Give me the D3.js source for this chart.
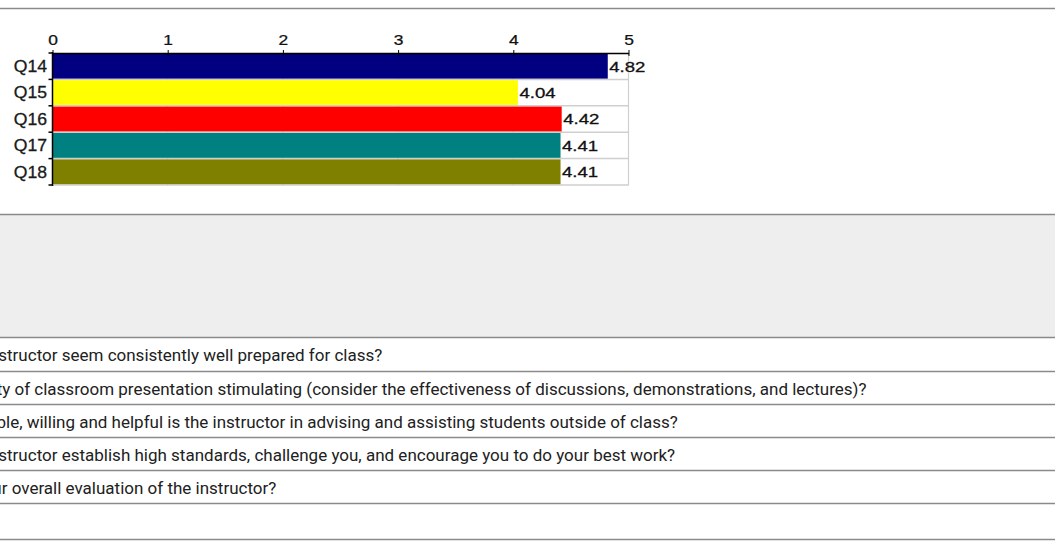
<!DOCTYPE html>
<html><head><meta charset="utf-8">
<script src="https://cdn.jsdelivr.net/npm/d3@7"></script>
<style>
html,body{margin:0;padding:0;background:#fff;overflow:hidden;}
svg{display:block;}
</style></head>
<body>
<svg id="c" width="1055" height="554"></svg>
<script>
const categories = ["Q14","Q15","Q16","Q17","Q18"];
const values = [4.82, 4.04, 4.42, 4.41, 4.41];
const colors = ["#000080","#ffff00","#ff0000","#008080","#808000"];
const xTicks = [0,1,2,3,4,5];
const questions = [
  {text:"structor seem consistently well prepared for class?", anchor:"structor ", at:61.7},
  {text:"ty of classroom presentation stimulating (consider the effectiveness of discussions, demonstrations, and lectures)?", anchor:"ty of ", at:34.3},
  {text:"able, willing and helpful is the instructor in advising and assisting students outside of class?", anchor:"able, ", at:26.7},
  {text:"structor establish high standards, challenge you, and encourage you to do your best work?", anchor:"structor ", at:61.7},
  {text:"your overall evaluation of the instructor?", anchor:"your ", at:11.7}
];

const svg = d3.select("#c");
const W = 1055;
const CF = "Liberation Sans, Arial, sans-serif";
const QF = "Roboto, sans-serif";
const QS = 17;

// page lines
const hr = [8, 214, 337, 370.5, 403.5, 436.5, 469.5, 502.5, 539];
svg.append("rect").attr("x",0).attr("y",214).attr("width",W).attr("height",123).attr("fill","#eeeeee");
svg.selectAll("line.hr").data(hr).join("line").attr("class","hr")
  .attr("x1",0).attr("x2",W).attr("y1",d=>Math.round(d)+0.5).attr("y2",d=>Math.round(d)+0.5)
  .attr("stroke","#8a8a8a").attr("stroke-width",1.3);

// chart
const x = d3.scaleLinear().domain([0,5]).range([52.5,628.5]);
const y = d3.scaleBand().domain(categories).range([53,185]).paddingInner(0.06).paddingOuter(0.03);
const yb = d3.scaleBand().domain(categories).range([53,185]);
const g = svg.append("g");

// grid
g.selectAll("line.vg").data(xTicks.slice(1)).join("line").attr("class","vg")
  .attr("x1",d=>x(d)).attr("x2",d=>x(d)).attr("y1",53).attr("y2",185.5)
  .attr("stroke","#cfcfcf").attr("stroke-width",1.2);
g.selectAll("line.hg").data(categories).join("line").attr("class","hg")
  .attr("x1",x(0)).attr("x2",x(5)).attr("y1",d=>yb(d)+yb.bandwidth()).attr("y2",d=>yb(d)+yb.bandwidth())
  .attr("stroke","#cfcfcf").attr("stroke-width",1.5);

// bars
g.selectAll("rect.bar").data(values).join("rect").attr("class","bar")
  .attr("x",x(0)).attr("y",(d,i)=>y(categories[i]))
  .attr("width",d=>x(d)-x(0)).attr("height",y.bandwidth())
  .attr("fill",(d,i)=>colors[i]);

// axes
const xAxis = d3.axisTop(x).tickValues(xTicks).tickSize(3).tickSizeOuter(0).tickFormat(d3.format("d"));
const xa = g.append("g").attr("transform","translate(0,53)").call(xAxis);
xa.select(".domain").attr("stroke","#000").attr("stroke-width",1.5);
xa.selectAll(".tick line").attr("stroke","#000").attr("y1",3).attr("y2",-3);
xa.selectAll(".tick text").attr("font-family",CF).attr("font-size",14.5).attr("fill","#111")
  .attr("stroke","#111").attr("stroke-width",0.25)
  .attr("y",null).attr("dy",null).attr("text-anchor","middle")
  .attr("transform","translate(0,-8.5) scale(1.2,1)");

const ya = g.append("g").attr("transform","translate(52.5,0)");
ya.append("line").attr("x1",0).attr("x2",0).attr("y1",52).attr("y2",186).attr("stroke","#000").attr("stroke-width",1.5);
ya.selectAll("line.yt").data(categories.concat(["end"])).join("line").attr("class","yt")
  .attr("x1",-4).attr("x2",0)
  .attr("y1",(d,i)=> i<categories.length ? yb(d) : 185).attr("y2",(d,i)=> i<categories.length ? yb(d) : 185)
  .attr("stroke","#000").attr("stroke-width",1.5);
ya.selectAll("text").data(categories).join("text")
  .attr("transform",d=>`translate(-5.5,${yb(d)+yb.bandwidth()/2}) scale(1.1,1)`).attr("dy","0.36em")
  .attr("text-anchor","end").attr("font-family",CF).attr("font-size",16).attr("fill","#1a1a1a")
  .attr("stroke","#1a1a1a").attr("stroke-width",0.3)
  .text(d=>d);

// value labels
g.selectAll("text.val").data(values).join("text").attr("class","val")
  .attr("transform",(d,i)=>`translate(${x(d)+1.5},${yb(categories[i])+yb.bandwidth()/2}) scale(1.24,1)`)
  .attr("dy","0.36em")
  .attr("font-family",CF).attr("font-size",15).attr("fill","#111")
  .attr("stroke","#111").attr("stroke-width",0.3)
  .text(d=>d.toFixed(2));

// question rows
const rowTops = hr.slice(2,7);
const qt = svg.selectAll("text.q").data(questions).join("text").attr("class","q")
  .attr("font-family",QF).attr("font-size",QS).attr("fill","#212121")
  .attr("y",(d,i)=>rowTops[i]+24)
  .text(d=>d.text);
qt.each(function(d){
  const t = d3.select(this);
  const probe = svg.append("text").attr("font-family",QF).attr("font-size",QS)
    .style("white-space","pre").text(d.anchor + "|");
  const bar = svg.append("text").attr("font-family",QF).attr("font-size",QS).text("|");
  const w = probe.node().getComputedTextLength() - bar.node().getComputedTextLength();
  probe.remove(); bar.remove();
  t.attr("x", d.at - w);
});
</script>
</body></html>
